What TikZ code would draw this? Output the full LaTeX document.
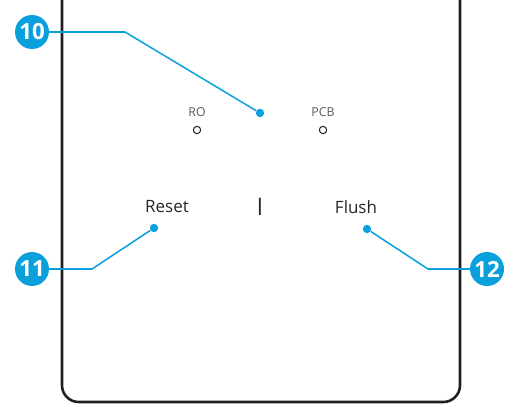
\documentclass[tikz,border=0pt]{standalone}
\usepackage{fontspec}
\setmainfont{Open Sans}
\usepackage{xcolor}
\usepackage{tikz}
\usetikzlibrary{positioning}
\definecolor{callout}{HTML}{0AA0DC}

\begin{document}
\begin{tikzpicture}[x=0.03cm,y=-0.03cm,
badge/.style={circle,fill=callout,text=white,inner sep=0pt,minimum size=1.02cm,
  font=\bfseries\fontsize{19}{19}\selectfont},
lead/.style={callout,line width=1.3pt},
dot/.style={circle,fill=callout,inner sep=0pt,minimum size=0.25cm},
led/.style={circle,draw=black!85,line width=0.9pt,inner sep=0pt,minimum size=0.22cm},
small/.style={text=black!65,font=\fontsize{10.5}{10.5}\selectfont},
btn/.style={text=black!85,font=\fontsize{14.5}{14.5}\selectfont}]
\useasboundingbox (0,0) rectangle (513,404);
% housing
\draw[line width=2.2pt,black!88,rounded corners=0.5cm](62,-5)--(62,402)--(460,402)--(460,-5);
% indicators
\node[small] (ro) at (197,112) {RO};
\node[led] (roled) at (197,130) {};
\node[small] (pcb) at (323,112) {PCB};
\node[led] (pcbled) at (323,130) {};
% buttons
\node[btn] (reset) at (167,207) {Reset};
\node[btn,font=\bfseries\fontsize{15}{15}\selectfont] (sep) at (260,207) {|};
\node[btn] (flush) at (356,207) {Flush};
% callouts
\node[dot] (d10) at (260,113) {};
\node[dot] (d11) at (154,228) {};
\node[dot] (d12) at (367,229) {};
\coordinate (k10) at (125,32);
\coordinate (k11) at (92,269);
\coordinate (k12) at (428,269);
\draw[lead](32,32)--(k10)--(d10);
\draw[lead](32,269)--(k11)--(d11);
\draw[lead](487,269)--(k12)--(d12);
\node[badge] (b10) at (32,32) {10};
\node[badge] (b11) at (32,269) {11};
\node[badge] (b12) at (487,269) {12};
\end{tikzpicture}
\end{document}
